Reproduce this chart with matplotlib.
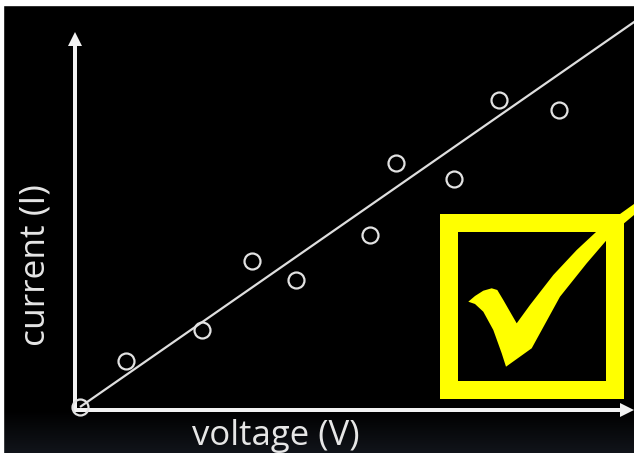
import numpy as np
import matplotlib
matplotlib.use("Agg")
import matplotlib.pyplot as plt
from matplotlib.patches import Rectangle, Polygon, FancyArrow

# ---- data (arbitrary units) ----
voltage = [0.0, 0.95, 2.55, 3.6, 4.5, 6.05, 6.6, 7.8, 8.75, 10.0]
current = [0.0, 0.96, 1.6, 3.05, 2.65, 3.6, 5.1, 4.75, 6.4, 6.2]
fit_x = [0.0, 11.6]
fit_y = [0.0, 8.06]
x_label = "voltage (V)"
y_label = "current (I)"

W, H = 634, 453
fig = plt.figure(figsize=(W / 100, H / 100), dpi=100)
fig.patch.set_facecolor("black")

# decoration layer in pixel coordinates
deco = fig.add_axes([0, 0, 1, 1])
deco.set_xlim(0, W)
deco.set_ylim(H, 0)
deco.axis("off")
deco.set_facecolor("black")

# subtle dark gradient at bottom
grad = np.linspace(0, 1, 50).reshape(-1, 1)
cmap = matplotlib.colors.LinearSegmentedColormap.from_list("g", ["#000000", "#11141a"])
deco.imshow(grad, cmap=cmap, extent=(0, W, H, 410), aspect="auto", zorder=0)
# white edges at top and left
deco.add_patch(Rectangle((0, 0), W, 5, color="white", zorder=1))
deco.add_patch(Rectangle((0, 0), 3, H, color="white", zorder=1))

ax_col = "#f2f2f2"
# axis arrows
deco.add_patch(FancyArrow(75, 412, 0, -380, width=4, head_width=14, head_length=14,
                          length_includes_head=True, color=ax_col, lw=0, zorder=3))
deco.add_patch(FancyArrow(73, 410, 561, 0, width=4, head_width=14, head_length=14,
                          length_includes_head=True, color=ax_col, lw=0, zorder=3))

# yellow box with check
yel = "#ffff00"
deco.add_patch(Rectangle((440, 214), 184, 185, color=yel, lw=0, zorder=4))
deco.add_patch(Rectangle((458, 232), 148, 149, color="black", lw=0, zorder=5))
check = [(468.3, 301.7), (475, 296), (483.3, 290.7), (491.7, 288.3), (497.3, 290),
         (503.3, 300), (510, 311.7), (516.7, 323.3), (530, 305), (553.3, 275),
         (576.7, 250), (600, 228.3), (620, 214), (634, 204), (634, 215),
         (620, 226.7), (606.7, 240), (586.7, 263.3), (560, 296.7), (531.7, 348.3),
         (506, 366.7), (501.7, 353.3), (493.3, 330), (483.3, 311.7), (475, 304)]
deco.add_patch(Polygon(check, closed=True, color=yel, lw=0, zorder=6))

txt_col = "#e6e6e6"
deco.text(275.5, 445, x_label, color=txt_col, fontsize=25, family="Open Sans",
          ha="center", va="baseline", zorder=7)
deco.text(36, 265, y_label, color=txt_col, fontsize=25.5, family="Open Sans",
          ha="center", va="center", rotation=90, zorder=7)

# data layer
s = 47.9
ax = fig.add_axes([0, 0, 1, 1])
ax.set_xlim(-80 / s, 554 / s)
ax.set_ylim(-46 / s, 407 / s)
ax.patch.set_alpha(0)
ax.axis("off")
ax.plot(fit_x, fit_y, color="#dedede", lw=1.6, solid_capstyle="butt", zorder=8)
ax.plot(voltage, current, "o", ms=11.5, mfc="none", mec="#e2e2e2", mew=1.6, zorder=9)

fig.savefig("out.png", dpi=100, facecolor=fig.get_facecolor())
